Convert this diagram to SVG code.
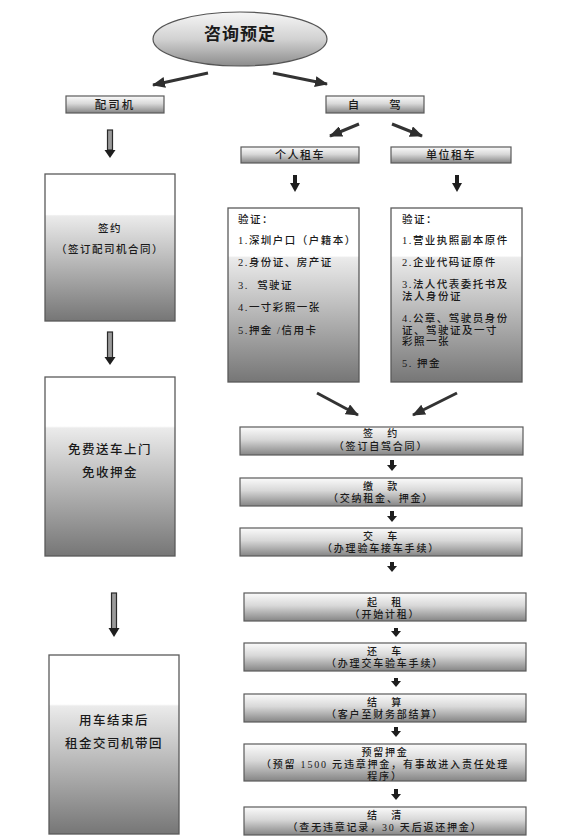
<svg xmlns="http://www.w3.org/2000/svg" width="567" height="838" viewBox="0 0 567 838">
<defs>
<linearGradient id="gEll" x1="0" y1="0" x2="0" y2="1">
<stop offset="0" stop-color="#f6f6f6"/><stop offset="0.5" stop-color="#d2d2d2"/><stop offset="1" stop-color="#8c8c8c"/>
</linearGradient>
<linearGradient id="gBar" x1="0" y1="0" x2="0" y2="1">
<stop offset="0" stop-color="#fbfbfb"/><stop offset="0.45" stop-color="#d8d8d8"/><stop offset="1" stop-color="#858585"/>
</linearGradient>
<linearGradient id="gTall" x1="0" y1="0" x2="0" y2="1">
<stop offset="0" stop-color="#ffffff"/><stop offset="0.275" stop-color="#ffffff"/><stop offset="0.285" stop-color="#ebebeb"/><stop offset="1" stop-color="#767676"/>
</linearGradient>
<marker id="ah" markerUnits="userSpaceOnUse" markerWidth="13" markerHeight="11" refX="12" refY="5.5" orient="auto">
<path d="M0,0 L13,5.5 L0,11 z" fill="#2e2e2e"/>
</marker>
<style>
text{font-family:"Liberation Serif","Noto Sans CJK SC",serif;font-weight:500;fill:#1a1a1a;font-size:10.5px;letter-spacing:1.5px}
.c{text-anchor:middle}
.f{font-size:10px;letter-spacing:1.8px}
.bar{fill:url(#gBar);stroke:#5a5a5a;stroke-width:1.2}
.tall{fill:url(#gTall);stroke:#5a5a5a;stroke-width:1.3}
.diag{stroke:#333;stroke-width:3;fill:none;marker-end:url(#ah)}
.blk{fill:#1e1e1e}
.hol{fill:#9a9a9a;stroke:#2a2a2a;stroke-width:1.2}
.big{font-size:12.5px;letter-spacing:1.5px}
</style>
</defs>

<g id="connectors">
<line class="diag" x1="208" y1="73" x2="153" y2="85"/>
<line class="diag" x1="273" y1="73" x2="327" y2="84"/>
<line class="diag" x1="359" y1="124" x2="330" y2="136"/>
<line class="diag" x1="392" y1="124" x2="422" y2="136"/>
<line class="diag" x1="317" y1="393" x2="358" y2="415"/>
<line class="diag" x1="457" y1="393" x2="413" y2="415"/>
<rect class="hol" x="107.5" y="130" width="5" height="20"/>
<path class="blk" d="M104.5,150 L115.5,150 L110,158 z"/>
<rect class="hol" x="107.5" y="332" width="5" height="26"/>
<path class="blk" d="M104.5,357 L115.5,357 L110,365 z"/>
<rect class="hol" x="111.5" y="593" width="5" height="36"/>
<path class="blk" d="M108.5,628 L119.5,628 L114,637 z"/>
<rect class="blk" x="293" y="175" width="4" height="9"/>
<path class="blk" d="M290,183 L300,183 L295,192 z"/>
<rect class="blk" x="455" y="175" width="4" height="9"/>
<path class="blk" d="M452,183 L462,183 L457,192 z"/>
<rect class="blk" x="390" y="460" width="4" height="6"/>
<path class="blk" d="M387,465 L397,465 L392,471 z"/>
<rect class="blk" x="390" y="511" width="4" height="6"/>
<path class="blk" d="M387,516 L397,516 L392,522 z"/>
<rect class="blk" x="390" y="562" width="4" height="5"/>
<path class="blk" d="M387,566 L397,566 L392,572 z"/>
<rect class="blk" x="394" y="628" width="4" height="4"/>
<path class="blk" d="M391,631 L401,631 L396,637 z"/>
<rect class="blk" x="394" y="678" width="4" height="4"/>
<path class="blk" d="M391,681 L401,681 L396,687 z"/>
<rect class="blk" x="394" y="727" width="4" height="5"/>
<path class="blk" d="M391,731 L401,731 L396,737 z"/>
<rect class="blk" x="394" y="789" width="4" height="5"/>
<path class="blk" d="M391,794 L401,794 L396,800 z"/>
</g>

<g id="consult">
<ellipse cx="240" cy="39" rx="87" ry="27" fill="url(#gEll)" stroke="#555" stroke-width="1.2"/>
<text class="c" x="240" y="40" style="font-size:17px;letter-spacing:1px;font-weight:bold">咨询预定</text>
</g>

<g id="driver">
<rect class="bar" x="66" y="96" width="98" height="17"/>
<text class="c" x="115" y="109" style="letter-spacing:2px;font-size:11.5px">配司机</text>
</g>

<g id="selfdrive">
<rect class="bar" x="326" y="96" width="98" height="17"/>
<text class="c" x="375" y="109" style="word-spacing:24px;font-size:11.5px">自 驾</text>
</g>

<g id="personal">
<rect class="bar" x="241" y="147" width="118" height="16"/>
<text class="c" x="300" y="159" style="font-size:11px">个人租车</text>
</g>

<g id="company">
<rect class="bar" x="391" y="147" width="120" height="16"/>
<text class="c" x="451" y="159" style="font-size:11px">单位租车</text>
</g>

<g id="verify-personal">
<rect class="tall" x="228" y="208" width="131" height="174"/>
<text x="238" y="223">验证：</text>
<text x="238" y="244">1.深圳户口（户籍本）</text>
<text x="238" y="266">2.身份证、房产证</text>
<text x="238" y="289" xml:space="preserve">3.  驾驶证</text>
<text x="238" y="311">4.一寸彩照一张</text>
<text x="238" y="334" xml:space="preserve">5.押金 /信用卡</text>
</g>

<g id="verify-company">
<rect class="tall" x="391" y="208" width="131" height="174"/>
<text x="402" y="223">验证：</text>
<text x="402" y="244">1.营业执照副本原件</text>
<text x="402" y="266">2.企业代码证原件</text>
<text x="402" y="288">3.法人代表委托书及</text>
<text x="402" y="299.5">法人身份证</text>
<text x="402" y="322">4.公章、驾驶员身份</text>
<text x="402" y="333.5">证、驾驶证及一寸</text>
<text x="402" y="345">彩照一张</text>
<text x="402" y="367" xml:space="preserve">5. 押金</text>
</g>

<g id="sign-driver">
<rect class="tall" x="45" y="174" width="130" height="147"/>
<text class="c" x="110" y="232">签约</text>
<text class="c" x="110" y="253">（签订配司机合同）</text>
</g>

<g id="free-delivery">
<rect class="tall" x="45" y="377" width="130" height="179"/>
<text class="c big" x="110" y="454">免费送车上门</text>
<text class="c big" x="110" y="477">免收押金</text>
</g>

<g id="driver-return">
<rect class="tall" x="49" y="655" width="130" height="179"/>
<text class="c big" x="114" y="725">用车结束后</text>
<text class="c big" x="114" y="748">租金交司机带回</text>
</g>

<g id="sign-self">
<rect class="bar" x="240" y="427" width="283" height="28"/>
<text class="c f" x="381" y="437" style="word-spacing:8px">签 约</text>
<text class="c f" x="381" y="450">（签订自驾合同）</text>
</g>

<g id="payment">
<rect class="bar" x="240" y="478" width="282" height="28"/>
<text class="c f" x="381" y="490" style="word-spacing:8px">缴 款</text>
<text class="c f" x="381" y="502">（交纳租金、押金）</text>
</g>

<g id="handover">
<rect class="bar" x="240" y="528" width="282" height="28"/>
<text class="c f" x="381" y="540" style="word-spacing:8px">交 车</text>
<text class="c f" x="381" y="552">（办理验车接车手续）</text>
</g>

<g id="start">
<rect class="bar" x="244" y="593" width="282" height="28"/>
<text class="c f" x="385" y="606" style="word-spacing:8px">起 租</text>
<text class="c f" x="385" y="618">（开始计租）</text>
</g>

<g id="return">
<rect class="bar" x="244" y="643" width="282" height="28"/>
<text class="c f" x="385" y="655" style="word-spacing:8px">还 车</text>
<text class="c f" x="385" y="667">（办理交车验车手续）</text>
</g>

<g id="settle">
<rect class="bar" x="244" y="694" width="282" height="28"/>
<text class="c f" x="385" y="706" style="word-spacing:8px">结 算</text>
<text class="c f" x="385" y="718">（客户至财务部结算）</text>
</g>

<g id="deposit">
<rect class="bar" x="244" y="744" width="282" height="37"/>
<text class="c f" x="385" y="756">预留押金</text>
<text class="c f" x="385" y="768">（预留 1500 元违章押金，有事故进入责任处理</text>
<text class="c f" x="385" y="780">程序）</text>
</g>

<g id="clear">
<rect class="bar" x="244" y="807" width="282" height="28"/>
<text class="c f" x="385" y="819" style="word-spacing:8px">结 清</text>
<text class="c f" x="385" y="831">（查无违章记录，30 天后返还押金）</text>
</g>
</svg>
